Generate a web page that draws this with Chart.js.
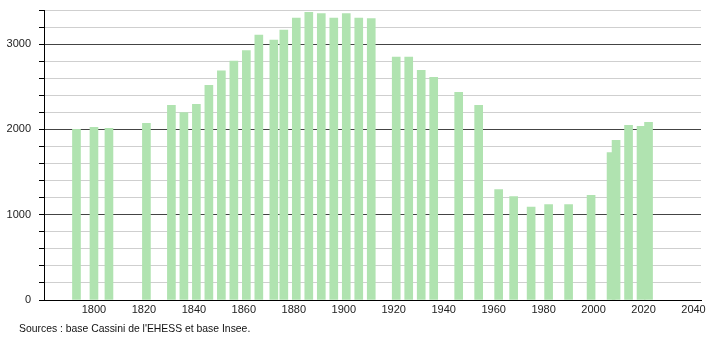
<!DOCTYPE html>
<html>
<head>
<meta charset="utf-8">
<script src="https://cdn.jsdelivr.net/npm/chart.js@4"></script>
<style>
  html, body { margin: 0; padding: 0; background: #fff; }
  #wrap { position: relative; width: 710px; height: 340px; }
  #source {
    position: absolute; left: 19px; top: 323px;
    font: 10.4px "Liberation Sans", Arial, sans-serif; color: #111;
  }
</style>
</head>
<body>
<div id="wrap">
  <canvas id="popChart" width="710" height="340"></canvas>
  <div id="source">Sources : base Cassini de l'EHESS et base Insee.</div>
</div>
<script>
const years = [1793, 1800, 1806, 1821, 1831, 1836, 1841, 1846, 1851, 1856,
  1861, 1866, 1872, 1876, 1881, 1886, 1891, 1896, 1901, 1906, 1911,
  1921, 1926, 1931, 1936, 1946, 1954, 1962, 1968, 1975, 1982, 1990, 1999,
  2007, 2009, 2014, 2019, 2022];
const population = [2000, 2024, 2012, 2070, 2282, 2196, 2294, 2518, 2686, 2800,
  2925, 3106, 3047, 3165, 3306, 3373, 3357, 3306, 3357, 3306, 3298,
  2847, 2847, 2694, 2612, 2435, 2282, 1294, 1212, 1090, 1118, 1118, 1227,
  1729, 1871, 2047, 2035, 2082];
const xTickYears = [1800, 1820, 1840, 1860, 1880, 1900, 1920, 1940, 1960, 1980, 2000, 2020, 2040];

const ctx = document.getElementById('popChart').getContext('2d');
const font = { family: '"Liberation Sans", Arial, sans-serif', size: 11 };

window.popChart = new Chart(ctx, {
  type: 'bar',
  data: {
    datasets: [
      {
        data: years.map((y, i) => ({ x: y, y: population[i] })),
        backgroundColor: '#b0e3b0',
        barThickness: 8,
        borderWidth: 0
      }
    ]
  },
  options: {
    responsive: false,
    animation: false,
    layout: { padding: { top: 10, right: 9, left: 0, bottom: 0 } },
    plugins: {
      legend: { display: false },
      tooltip: { enabled: false }
    },
    scales: {
      x: {
        type: 'linear',
        offset: false,
        min: 1780,
        max: 2043,
        afterBuildTicks: (scale) => { scale.ticks = xTickYears.map(v => ({ value: v })); },
        afterFit: (scale) => { scale.height = 40; },
        grid: { display: false, drawTicks: false },
        border: { color: '#000', width: 1 },
        ticks: { color: '#222', font: font, padding: 3, maxRotation: 0, callback: v => String(v) }
      },
      y: {
        min: 0,
        max: 3400,
        afterFit: (scale) => {
          scale.width = 44;
          scale.paddingTop = 0;
          scale.paddingBottom = 0;
        },
        grid: {
          color: (c) => (c.tick && c.tick.value % 1000 === 0 ? '#444' : '#cfcfcf'),
          tickColor: '#000',
          tickLength: 5
        },
        border: { color: '#000', width: 1 },
        ticks: {
          stepSize: 200,
          color: '#222',
          font: font,
          padding: 8,
          callback: v => (v % 1000 === 0 ? String(v) : '')
        }
      }
    }
  }
});
</script>
</body>
</html>
